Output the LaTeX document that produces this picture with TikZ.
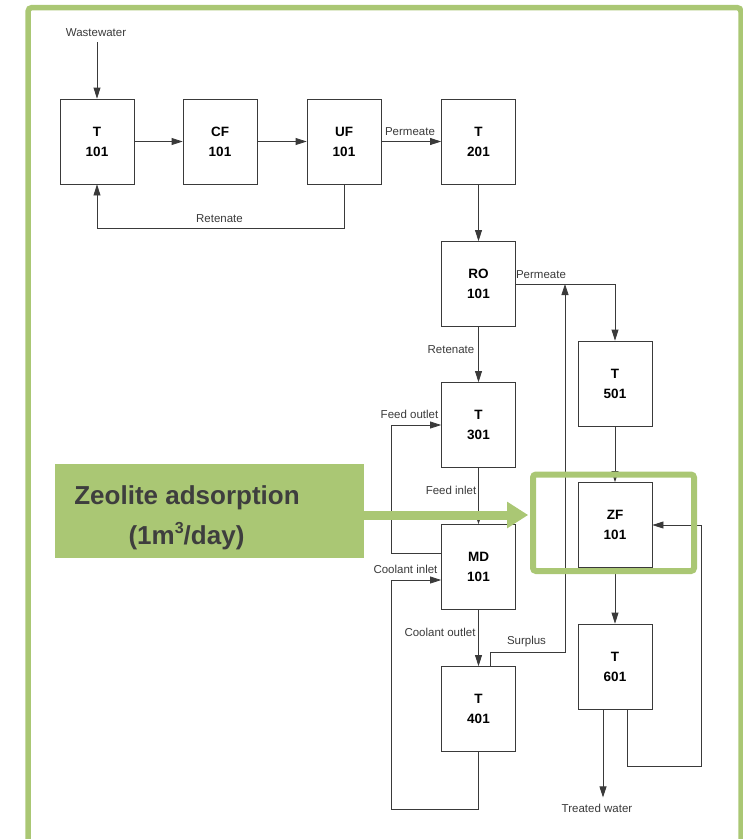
\documentclass[tikz,border=0pt]{standalone}
\usepackage{fontspec}
\setmainfont{Liberation Sans}
\usetikzlibrary{arrows.meta,calc}
\definecolor{zeogreen}{RGB}{170,199,116}
\definecolor{linegray}{RGB}{58,58,58}
\definecolor{textgray}{RGB}{62,62,62}

\begin{document}
\begin{tikzpicture}[x=1pt,y=-1pt,
	unit/.style={draw=linegray, line width=0.8pt, minimum width=74pt, minimum height=85pt,
		inner sep=0pt, align=center, font=\fontsize{13.5}{20}\selectfont\bfseries},
	lbl/.style={anchor=base, inner sep=0pt, text=linegray, font=\fontsize{11.5}{13}\selectfont},
	zeotext/.style={anchor=base, inner sep=0pt, text=textgray, font=\fontsize{26}{30}\selectfont\bfseries},
	flow/.style={draw=linegray, line width=0.8pt, -{Triangle[length=11pt,width=7pt]}},
	pipe/.style={draw=linegray, line width=0.8pt}]
	\useasboundingbox (0,0) rectangle (743,839);

	% Draw frame
	\draw[zeogreen, line width=5.5pt, rounded corners=4pt] (28,7.5) rectangle (741,880);

	% Draw units
	\node[unit] (t101) at (97,141.5) {T\\101};
	\node[unit] (cf101) at (220,141.5) {CF\\101};
	\node[unit] (uf101) at (344,141.5) {UF\\101};
	\node[unit] (t201) at (478.5,141.5) {T\\201};
	\node[unit] (ro101) at (478.5,284) {RO\\101};
	\node[unit] (t301) at (478.5,425) {T\\301};
	\node[unit] (md101) at (478.5,567) {MD\\101};
	\node[unit] (t401) at (478.5,709) {T\\401};
	\node[unit] (t501) at (615,383.5) {T\\501};
	\node[unit] (zf101) at (615,525) {ZF\\101};
	\node[unit] (t601) at (615,666.5) {T\\601};

	% Draw stream labels
	\node[lbl] (ww) at (96,36) {Wastewater};
	\node[lbl] at (219.5,222) {Retenate};
	\node[lbl] at (410,135) {Permeate};
	\node[lbl] at (541,278) {Permeate};
	\node[lbl] at (451,353) {Retenate};
	\node[lbl] at (409.5,418) {Feed outlet};
	\node[lbl] at (451,494) {Feed inlet};
	\node[lbl] at (405.5,573) {Coolant inlet};
	\node[lbl] at (440,636) {Coolant outlet};
	\node[lbl] at (526.5,644) {Surplus};
	\node[lbl] (tw) at (597,812) {Treated water};

	% Draw streams
	\coordinate (mix) at (565,284);
	\draw[flow] (t101.north |- ww.south) ++(0,6) -- (t101.north);
	\draw[flow] (t101) -- (cf101);
	\draw[flow] (cf101) -- (uf101);
	\draw[flow] (uf101) -- (t201);
	\draw[flow] (uf101.south) -- ++(0,44) -| (t101.south);
	\draw[flow] (t201) -- (ro101);
	\draw[flow] (ro101.east) -| (t501.north);
	\draw[flow] (ro101) -- (t301);
	\draw[flow] (t301) -- (md101);
	\draw[flow] ([yshift=14pt]md101.west) -- ++(-50,0) |- (t301.west);
	\draw[flow] (md101) -- (t401);
	\draw[flow] (t401.south) -- ++(0,57) -| ($(md101.west)+(-50,13)$) -- ([yshift=-13pt]md101.west);
	\draw[flow] ([xshift=11.5pt]t401.north) -- ++(0,-14) -| (mix);
	\draw[flow] (t501) -- (zf101);
	\draw[flow] (zf101) -- (t601);
	\draw[flow] ([xshift=-12pt]t601.south) -- ++(0,88);
	\draw[flow] ([xshift=12pt]t601.south) -- ++(0,57) -- ++(74,0) |- (zf101.east);

	% Draw zeolite highlight
	\draw[zeogreen, line width=6pt, rounded corners=3pt] (533,474.5) rectangle (694,571);
	\node[fill=zeogreen, minimum width=309pt, minimum height=94pt, inner sep=0pt] (zeo) at (209.5,511) {};
	\node[zeotext] at (187,504) {Zeolite adsorption};
	\node[zeotext] at (186.5,544) {(1m\raisebox{0.42em}{\fontsize{16}{16}\selectfont 3}/day)};
	\draw[zeogreen, line width=9pt, -{Triangle[length=21pt,width=25pt]}] ([yshift=-4pt]zeo.east) -- ++(164,0);
\end{tikzpicture}
\end{document}
